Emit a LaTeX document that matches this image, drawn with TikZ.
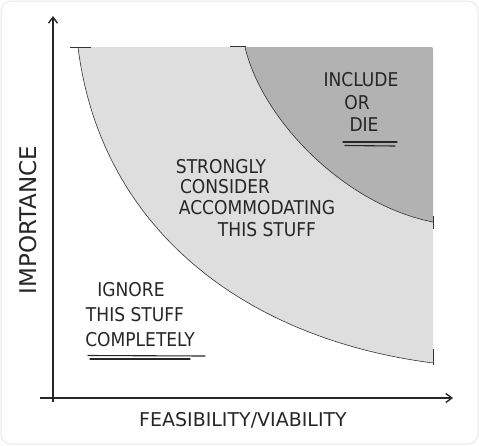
\documentclass[tikz,border=0pt]{standalone}
\usepackage{fontspec}
\newfontfamily\hand{DejaVu Sans Condensed}
\newfontfamily\handwide{DejaVu Sans}
\usetikzlibrary{arrows.meta}
\definecolor{lightzone}{RGB}{222,222,222}
\definecolor{darkzone}{RGB}{178,178,178}
\definecolor{framec}{RGB}{232,232,232}
\tikzset{
  lbl/.style={font=\hand\fontsize{19}{19}\selectfont, inner sep=0pt, text=black!85},
  axlbl/.style={font=\handwide\fontsize{19}{19}\selectfont, inner sep=0pt, text=black!85},
  axis/.style={line width=1.4pt, black!85, -{Straight Barb[length=6pt,width=9pt]}},
  zoneline/.style={line width=0.6pt, black!80},
  tick/.style={line width=0.6pt, black!80},
  uline/.style={line width=1.1pt, black!85, line cap=round}
}
\begin{document}
\begin{tikzpicture}[x=1pt,y=-1pt]
\useasboundingbox (0,0) rectangle (479,445);
\draw[framec, line width=1pt, rounded corners=10pt] (1,1) rectangle (478,444);
% light zone
\fill[lightzone] (78,47) -- (429,47) .. controls (433,47) .. (433,51) -- (433,363)
   .. controls (240,338) and (100,225) .. (78,47) -- cycle;
% dark zone
\fill[darkzone] (245,47) -- (429,47) .. controls (433,47) .. (433,51) -- (433,222)
   .. controls (345,205) and (262,120) .. (245,47) -- cycle;
% curves
\coordinate (l1) at (78,47); \coordinate (l2) at (433,363);
\coordinate (d1) at (245,47); \coordinate (d2) at (433,222);
\draw[zoneline] (l1) .. controls (100,225) and (240,338) .. (l2);
\draw[zoneline] (d1) .. controls (262,120) and (345,205) .. (d2);
% ticks
\draw[tick] (70,47) -- (91,47);
\draw[tick] (230,46) -- (246,46);
\draw[tick] (433,216) -- (433,229);
\draw[tick] (433,349) -- (433,365);
% axes
\coordinate (o1) at (53,402); \coordinate (ytop) at (53,16);
\coordinate (o2) at (40,398); \coordinate (xend) at (453,398);
\draw[axis] (o1) -- (ytop);
\draw[axis] (o2) -- (xend);
% labels
\node[lbl] (inc) at (361,80) {INCLUDE};
\node[lbl] (or) at (357,103) {OR};
\node[lbl] (die) at (364,125) {DIE};
\coordinate (u1a) at (343,142); \coordinate (u1b) at (397,142);
\coordinate (u2a) at (345,145.5); \coordinate (u2b) at (395,146);
\draw[uline] (u1a) -- (u1b);
\draw[uline] (u2a) -- (u2b);
\node[lbl] (s1) at (221,167) {STRONGLY};
\node[lbl] (s2) at (225,187) {CONSIDER};
\node[lbl] (s3) at (257,208) {ACCOMMODATING};
\node[lbl] (s4) at (267,230) {THIS STUFF};
\node[lbl] (i1) at (131,290) {IGNORE};
\node[lbl] (i2) at (135,315) {THIS STUFF};
\node[lbl] (i3) at (140,340) {COMPLETELY};
\coordinate (u3a) at (88,355.5); \coordinate (u3b) at (205,356);
\coordinate (u4a) at (90,359); \coordinate (u4b) at (190,359);
\draw[uline] (u3a) -- (u3b);
\draw[uline] (u4a) -- (u4b);
\node[axlbl] (xl) at (243,420) {FEASIBILITY/VIABILITY};
\node[axlbl, font=\handwide\fontsize{23}{23}\selectfont, rotate=90] (yl) at (28,220) {IMPORTANCE};
\end{tikzpicture}
\end{document}
